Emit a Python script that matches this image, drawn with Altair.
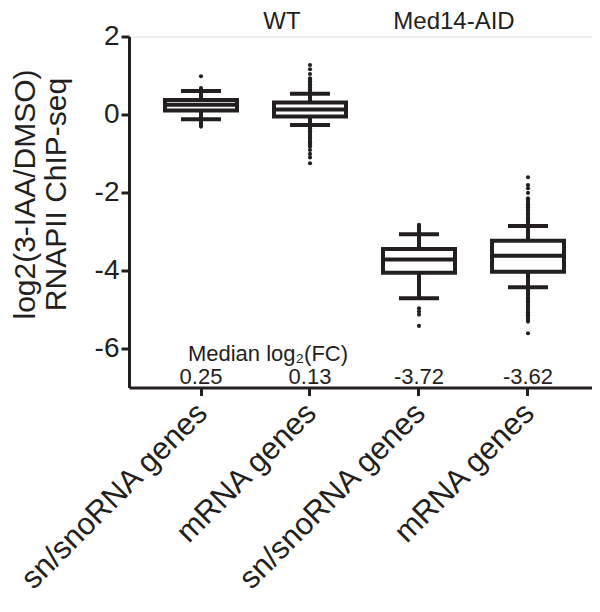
import altair as alt
import pandas as pd

# ---- data ----
groups = ["WT_sn", "WT_m", "AID_sn", "AID_m"]
group_labels = ["sn/snoRNA genes", "mRNA genes", "sn/snoRNA genes", "mRNA genes"]
q1 = [0.10, -0.05, -4.06, -4.03]
median = [0.25, 0.13, -3.72, -3.62]
q3 = [0.37, 0.31, -3.45, -3.24]
whisker_low = [-0.12, -0.27, -4.71, -4.43]
whisker_high = [0.60, 0.53, -3.07, -2.86]
median_text = ["0.25", "0.13", "-3.72", "-3.62"]

outliers_wt_sn = [0.64, 0.68, 0.98, -0.15, -0.19, -0.23, -0.27, -0.31]
outliers_wt_m = [0.57, 0.61, 0.65, 0.69, 0.73, 0.77, 0.81, 0.85, 0.89, 0.93,
                 1.04, 1.16, 1.27,
                 -0.31, -0.35, -0.39, -0.43, -0.47, -0.51, -0.55, -0.59, -0.63,
                 -0.67, -0.71, -0.75, -0.79, -0.83, -0.91, -1.01, -1.10, -1.25]
outliers_aid_sn = [-3.03, -2.99, -2.95, -2.91, -2.87, -2.83,
                   -4.97, -5.05, -5.13, -5.42]
outliers_aid_m = [-2.82, -2.78, -2.74, -2.70, -2.66, -2.62, -2.58, -2.54, -2.50,
                  -2.46, -2.42, -2.38, -2.34, -2.30, -2.26, -2.22, -2.18, -2.15,
                  -2.01, -1.89, -1.81, -1.61,
                  -4.47, -4.51, -4.55, -4.59, -4.63, -4.67, -4.71, -4.75, -4.79,
                  -4.83, -4.87, -4.91, -4.95, -4.99, -5.03, -5.07, -5.11, -5.15,
                  -5.19, -5.23, -5.27, -5.31, -5.61]
outlier_lists = [outliers_wt_sn, outliers_wt_m, outliers_aid_sn, outliers_aid_m]

y_ticks = [2, 0, -2, -4, -6]

# ---- tables ----
stats = pd.DataFrame({
    "g": groups, "q1": q1, "median": median, "q3": q3,
    "lo": whisker_low, "hi": whisker_high, "mtext": median_text,
})
out_rows = []
for g, vals in zip(groups, outlier_lists):
    for v in vals:
        out_rows.append({"g": g, "v": v})
outliers = pd.DataFrame(out_rows)

INK = "#231f20"
FONT = "Liberation Sans"

label_expr = " : ".join(
    f"datum.value == '{g}' ? '{l}'" for g, l in zip(groups, group_labels)
) + " : ''"

x_enc = alt.X(
    "g:N",
    sort=groups,
    scale=alt.Scale(domain=groups, paddingInner=0, paddingOuter=0.1239, align=0.648),
    axis=alt.Axis(
        title=None, labelExpr=label_expr, labelAngle=-45, labelFontSize=31,
        labelFont=FONT, labelColor=INK, labelPadding=2, labelLimit=0,
        labelOffset=-9,
        domainColor=INK, domainWidth=3, tickColor=INK, tickWidth=3, tickSize=8,
        grid=False,
    ),
)
y_scale = alt.Scale(domain=[-7, 2], nice=False, zero=False)
y_axis = alt.Axis(
    title=None, values=y_ticks, labelExpr="toString(datum.value)",
    labelFontSize=28, labelFont=FONT, labelColor=INK,
    labelPadding=2, domainColor=INK, domainWidth=3, tickColor=INK, tickWidth=3,
    tickSize=8, grid=False,
)

base = alt.Chart(stats)

whisk_up = base.mark_rule(color=INK, strokeWidth=4).encode(
    x=x_enc, y=alt.Y("q3:Q", scale=y_scale, axis=y_axis), y2="hi:Q")
whisk_dn = base.mark_rule(color=INK, strokeWidth=4).encode(
    x=x_enc, y=alt.Y("lo:Q", scale=y_scale, axis=y_axis), y2="q1:Q")
pts = alt.Chart(outliers).mark_circle(color=INK, opacity=1, size=17).encode(
    x=x_enc, y=alt.Y("v:Q", scale=y_scale, axis=y_axis))
box = base.mark_bar(fill="white", stroke=INK, strokeWidth=4, size=72).encode(
    x=x_enc, y=alt.Y("q1:Q", scale=y_scale, axis=y_axis), y2="q3:Q")
med = base.mark_tick(color=INK, thickness=4, size=72, opacity=1).encode(
    x=x_enc, y=alt.Y("median:Q", scale=y_scale, axis=y_axis))
cap_hi = base.mark_tick(color=INK, thickness=4, size=40, opacity=1).encode(
    x=x_enc, y=alt.Y("hi:Q", scale=y_scale, axis=y_axis))
cap_lo = base.mark_tick(color=INK, thickness=4, size=40, opacity=1).encode(
    x=x_enc, y=alt.Y("lo:Q", scale=y_scale, axis=y_axis))
med_vals = base.mark_text(font=FONT, fontSize=22, color=INK, baseline="middle").encode(
    x=x_enc, y=alt.value(340), text="mtext:N")

one = pd.DataFrame({"k": [0]})
med_title = alt.Chart(one).mark_text(
    font=FONT, fontSize=22, color=INK, baseline="middle", align="center",
    text="Median log\u2082(FC)").encode(x=alt.value(139), y=alt.value(317))
wt_title = alt.Chart(one).mark_text(
    font=FONT, fontSize=24, color=INK, baseline="middle", align="center",
    text="WT").encode(x=alt.value(153), y=alt.value(-15))
aid_title = alt.Chart(one).mark_text(
    font=FONT, fontSize=24, color=INK, baseline="middle", align="center",
    text="Med14-AID").encode(x=alt.value(325), y=alt.value(-15))
y_title = alt.Chart(one).mark_text(
    font=FONT, fontSize=30, color=INK, baseline="middle", align="center",
    angle=270, lineHeight=31,
    text=["log2(3-IAA/DMSO)", "RNAPII ChIP-seq"]).encode(
    x=alt.value(-103), y=alt.value(158))

chart = alt.layer(
    whisk_up, whisk_dn, pts, box, med, cap_hi, cap_lo, med_vals,
    med_title, wt_title, aid_title, y_title,
).properties(
    width=463, height=351,
    autosize=alt.AutoSizeParams(type="none"),
    padding={"left": 121, "top": 28.5, "right": 0, "bottom": 216.5},
).configure_view(stroke=None).configure(background="white")

chart.save("out.html", embed_options={"renderer": "svg", "actions": False})
